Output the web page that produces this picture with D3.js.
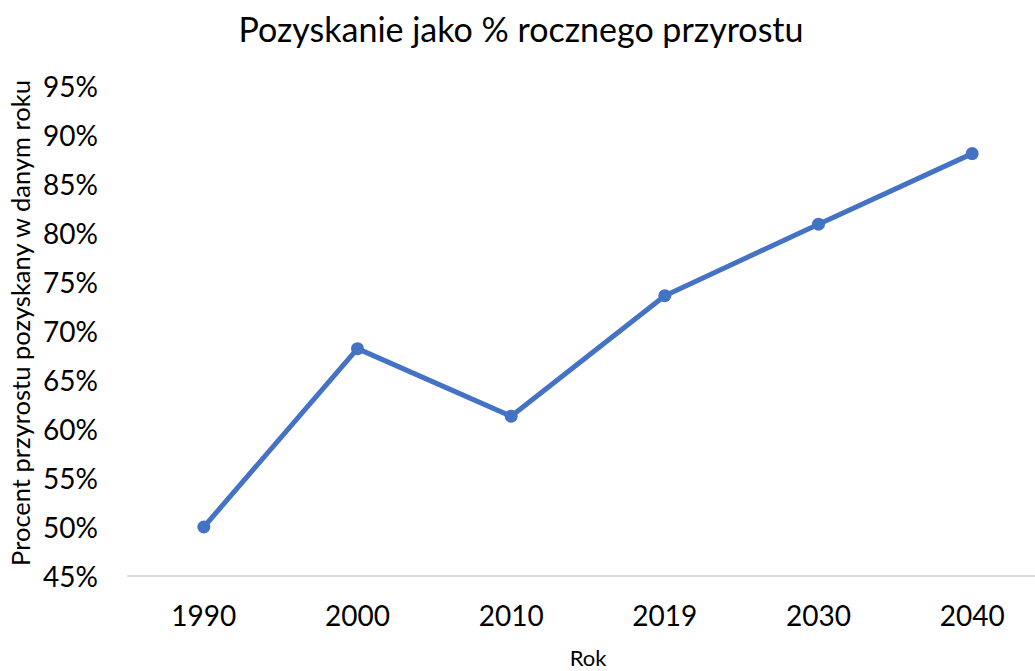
<!DOCTYPE html>
<html>
<head>
<meta charset="utf-8">
<script src="https://cdn.jsdelivr.net/npm/d3@7"></script>
<style>
  body { margin: 0; background: #fff; }
  text { font-family: Lato, "Open Sans", sans-serif; fill: #000; }
</style>
</head>
<body>
<div id="chart"></div>
<script>
// Chart data
const years = ['1990', '2000', '2010', '2019', '2030', '2040'];
const harvestShare = [0.50, 0.682, 0.613, 0.736, 0.809, 0.881];
const yTicks = [0.45, 0.50, 0.55, 0.60, 0.65, 0.70, 0.75, 0.80, 0.85, 0.90, 0.95];

const chartTitle = 'Pozyskanie jako % rocznego przyrostu';
const xTitle = 'Rok';
const yTitle = 'Procent przyrostu pozyskany w danym roku';

const width = 1035;
const height = 671;
const margin = { top: 86, right: -14, bottom: 95, left: 127 };
const lineColor = '#4472C4';

const svg = d3.select('#chart')
    .append('svg')
    .attr('width', width)
    .attr('height', height);

const x = d3.scaleBand()
    .domain(years)
    .range([margin.left, width - margin.right]);

const y = d3.scaleLinear()
    .domain([0.45, 0.95])
    .range([height - margin.bottom, margin.top]);

// Baseline
svg.append('line')
    .attr('x1', margin.left)
    .attr('x2', width - margin.right)
    .attr('y1', y(0.45))
    .attr('y2', y(0.45))
    .style('stroke', '#d9d9d9')
    .style('stroke-width', 2);

// Y axis labels
const yAxis = svg.append('g')
    .attr('transform', `translate(${margin.left - 29},0)`)
    .call(d3.axisLeft(y).tickValues(yTicks).tickFormat(d3.format('.0%')).tickSize(0).tickPadding(0));
yAxis.select('.domain').remove();
yAxis.selectAll('text')
    .style('font-family', 'Lato, sans-serif')
    .style('font-size', '28px')
    .attr('dy', '0.36em')
    .style('fill', '#000');

// X axis labels
const xAxis = svg.append('g')
    .attr('transform', `translate(0,${y(0.45)})`)
    .call(d3.axisBottom(x).tickSize(0).tickPadding(30));
xAxis.select('.domain').remove();
xAxis.selectAll('text')
    .style('font-family', 'Lato, sans-serif')
    .style('font-size', '28px')
    .style('fill', '#000');

// Line
const points = years.map((yr, i) => ({ year: yr, value: harvestShare[i] }));
const line = d3.line()
    .x(d => x(d.year) + x.bandwidth() / 2)
    .y(d => y(d.value));

svg.append('path')
    .datum(points)
    .attr('d', line)
    .attr('fill', 'none')
    .attr('stroke', lineColor)
    .attr('stroke-width', 5)
    .attr('stroke-linejoin', 'round');

svg.selectAll('.dot')
    .data(points)
    .enter().append('circle')
    .attr('class', 'dot')
    .attr('cx', d => x(d.year) + x.bandwidth() / 2)
    .attr('cy', d => y(d.value))
    .attr('r', 6.5)
    .attr('fill', lineColor);

// Titles
svg.append('text')
    .attr('x', 521)
    .attr('y', 42)
    .attr('text-anchor', 'middle')
    .style('font-size', '34px')
    .text(chartTitle);

svg.append('text')
    .attr('x', (margin.left + width - margin.right) / 2)
    .attr('y', 666)
    .attr('text-anchor', 'middle')
    .style('font-size', '22px')
    .text(xTitle);

svg.append('text')
    .attr('transform', `translate(30,${(80 + 566) / 2}) rotate(-90)`)
    .attr('text-anchor', 'middle')
    .style('font-size', '25.5px')
    .text(yTitle);
</script>
</body>
</html>
